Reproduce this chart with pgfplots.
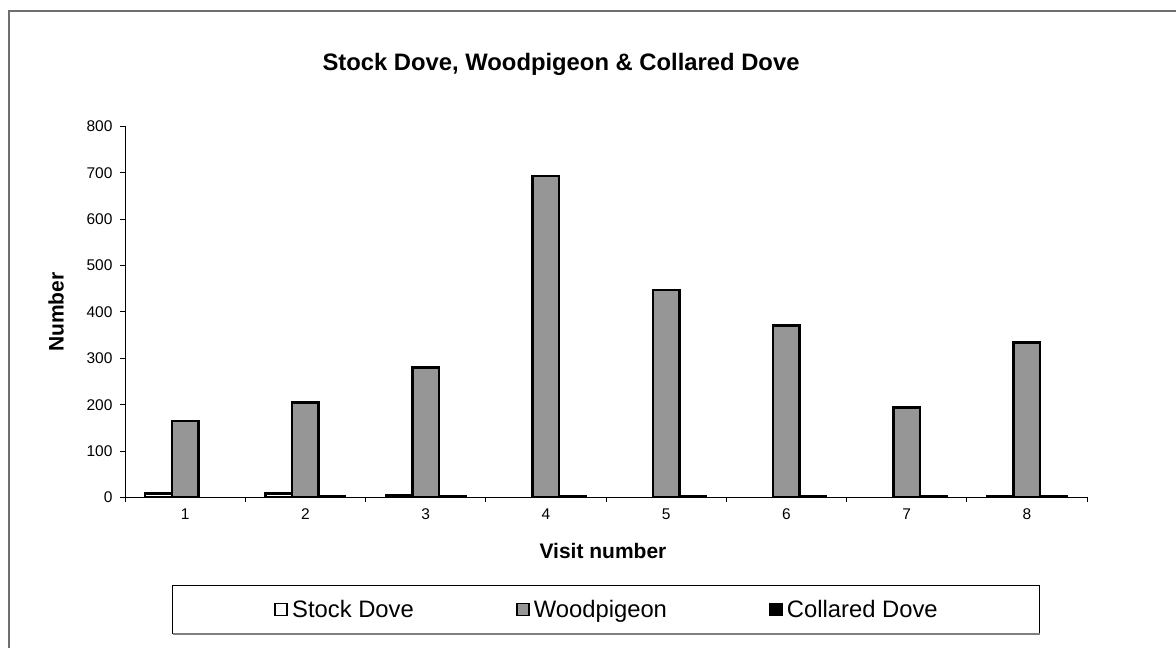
\documentclass[border=0pt]{standalone}
\usepackage{fontspec}
\setmainfont{Liberation Sans}
\usepackage{pgfplots}
\pgfplotsset{compat=1.18}
\definecolor{wpgray}{RGB}{150,150,150}
\definecolor{framegray}{RGB}{110,110,110}
\pgfplotsset{sqlegend/.style={legend image code/.code={\draw[##1, line width=1.9pt] (0pt,-6pt) rectangle (12pt,6pt);}}}
\begin{document}
\begin{tikzpicture}[x=1pt,y=1pt]
\path[use as bounding box] (0,0) rectangle (1176,648);
\draw[line width=1.2pt, framegray] (9,0) -- (9,637) -- (1176,637);
\begin{axis}[
  at={(125pt,150.5pt)}, anchor=south west,
  scale only axis, width=962pt, height=371pt,
  xmin=0.5, xmax=8.5, ymin=0, ymax=800,
  axis lines*=left,
  axis line style={line width=1pt, black},
  tick style={line width=1pt, black},
  tick align=outside,
  major tick length=5pt,
  xtick={0.5,1.5,...,8.5},
  xticklabels={1,2,3,4,5,6,7,8},
  x tick label as interval,
  ytick={0,100,...,800},
  ybar=0pt, bar width=26.6pt,
  ticklabel style={font=\fontsize{15.5}{18}\selectfont},
  yticklabel style={xshift=-4pt},
  xticklabel style={yshift=-3pt},
  /pgf/number format/assume math mode=true,
  legend columns=3,
  legend style={at={(0.5,-0.2358)}, anchor=north, draw=black, line width=1pt,
    fill=white,
    inner xsep=101.5pt, inner ysep=15.5pt,
    font=\fontsize{23.8}{28}\selectfont,
    nodes={inner sep=0pt, text height=17pt, text depth=0pt},
    /tikz/every odd column/.append style={column sep=4pt},
    /tikz/every even column/.append style={column sep=102pt},
    cells={anchor=west}},
]
\addplot[fill=white, draw=black, line width=2.4pt, sqlegend]
  coordinates {(1,9) (2,9) (3,5) (8,3)};
\addlegendentry{Stock Dove}
\addplot[fill=wpgray, draw=black, line width=2.4pt, sqlegend]
  coordinates {(1,165) (2,205) (3,280) (4,693) (5,447) (6,371) (7,194) (8,334)};
\addlegendentry{Woodpigeon}
\addplot[fill=black, draw=black, line width=2.4pt, sqlegend]
  coordinates {(2,2) (3,2) (4,2) (5,3) (6,3) (7,3) (8,3)};
\addlegendentry{Collared Dove}
\end{axis}
\draw[line width=1.6pt, gray] (173,14.2) -- (1040,14.2);
\node[anchor=base, font=\bfseries\fontsize{23.8}{28}\selectfont] at (561,577) {Stock Dove, Woodpigeon \& Collared Dove};
\node[rotate=90, font=\bfseries\fontsize{21}{25}\selectfont] at (56,336) {Number};
\node[anchor=base, font=\bfseries\fontsize{21}{25}\selectfont] at (603,89) {Visit number};
\end{tikzpicture}
\end{document}
